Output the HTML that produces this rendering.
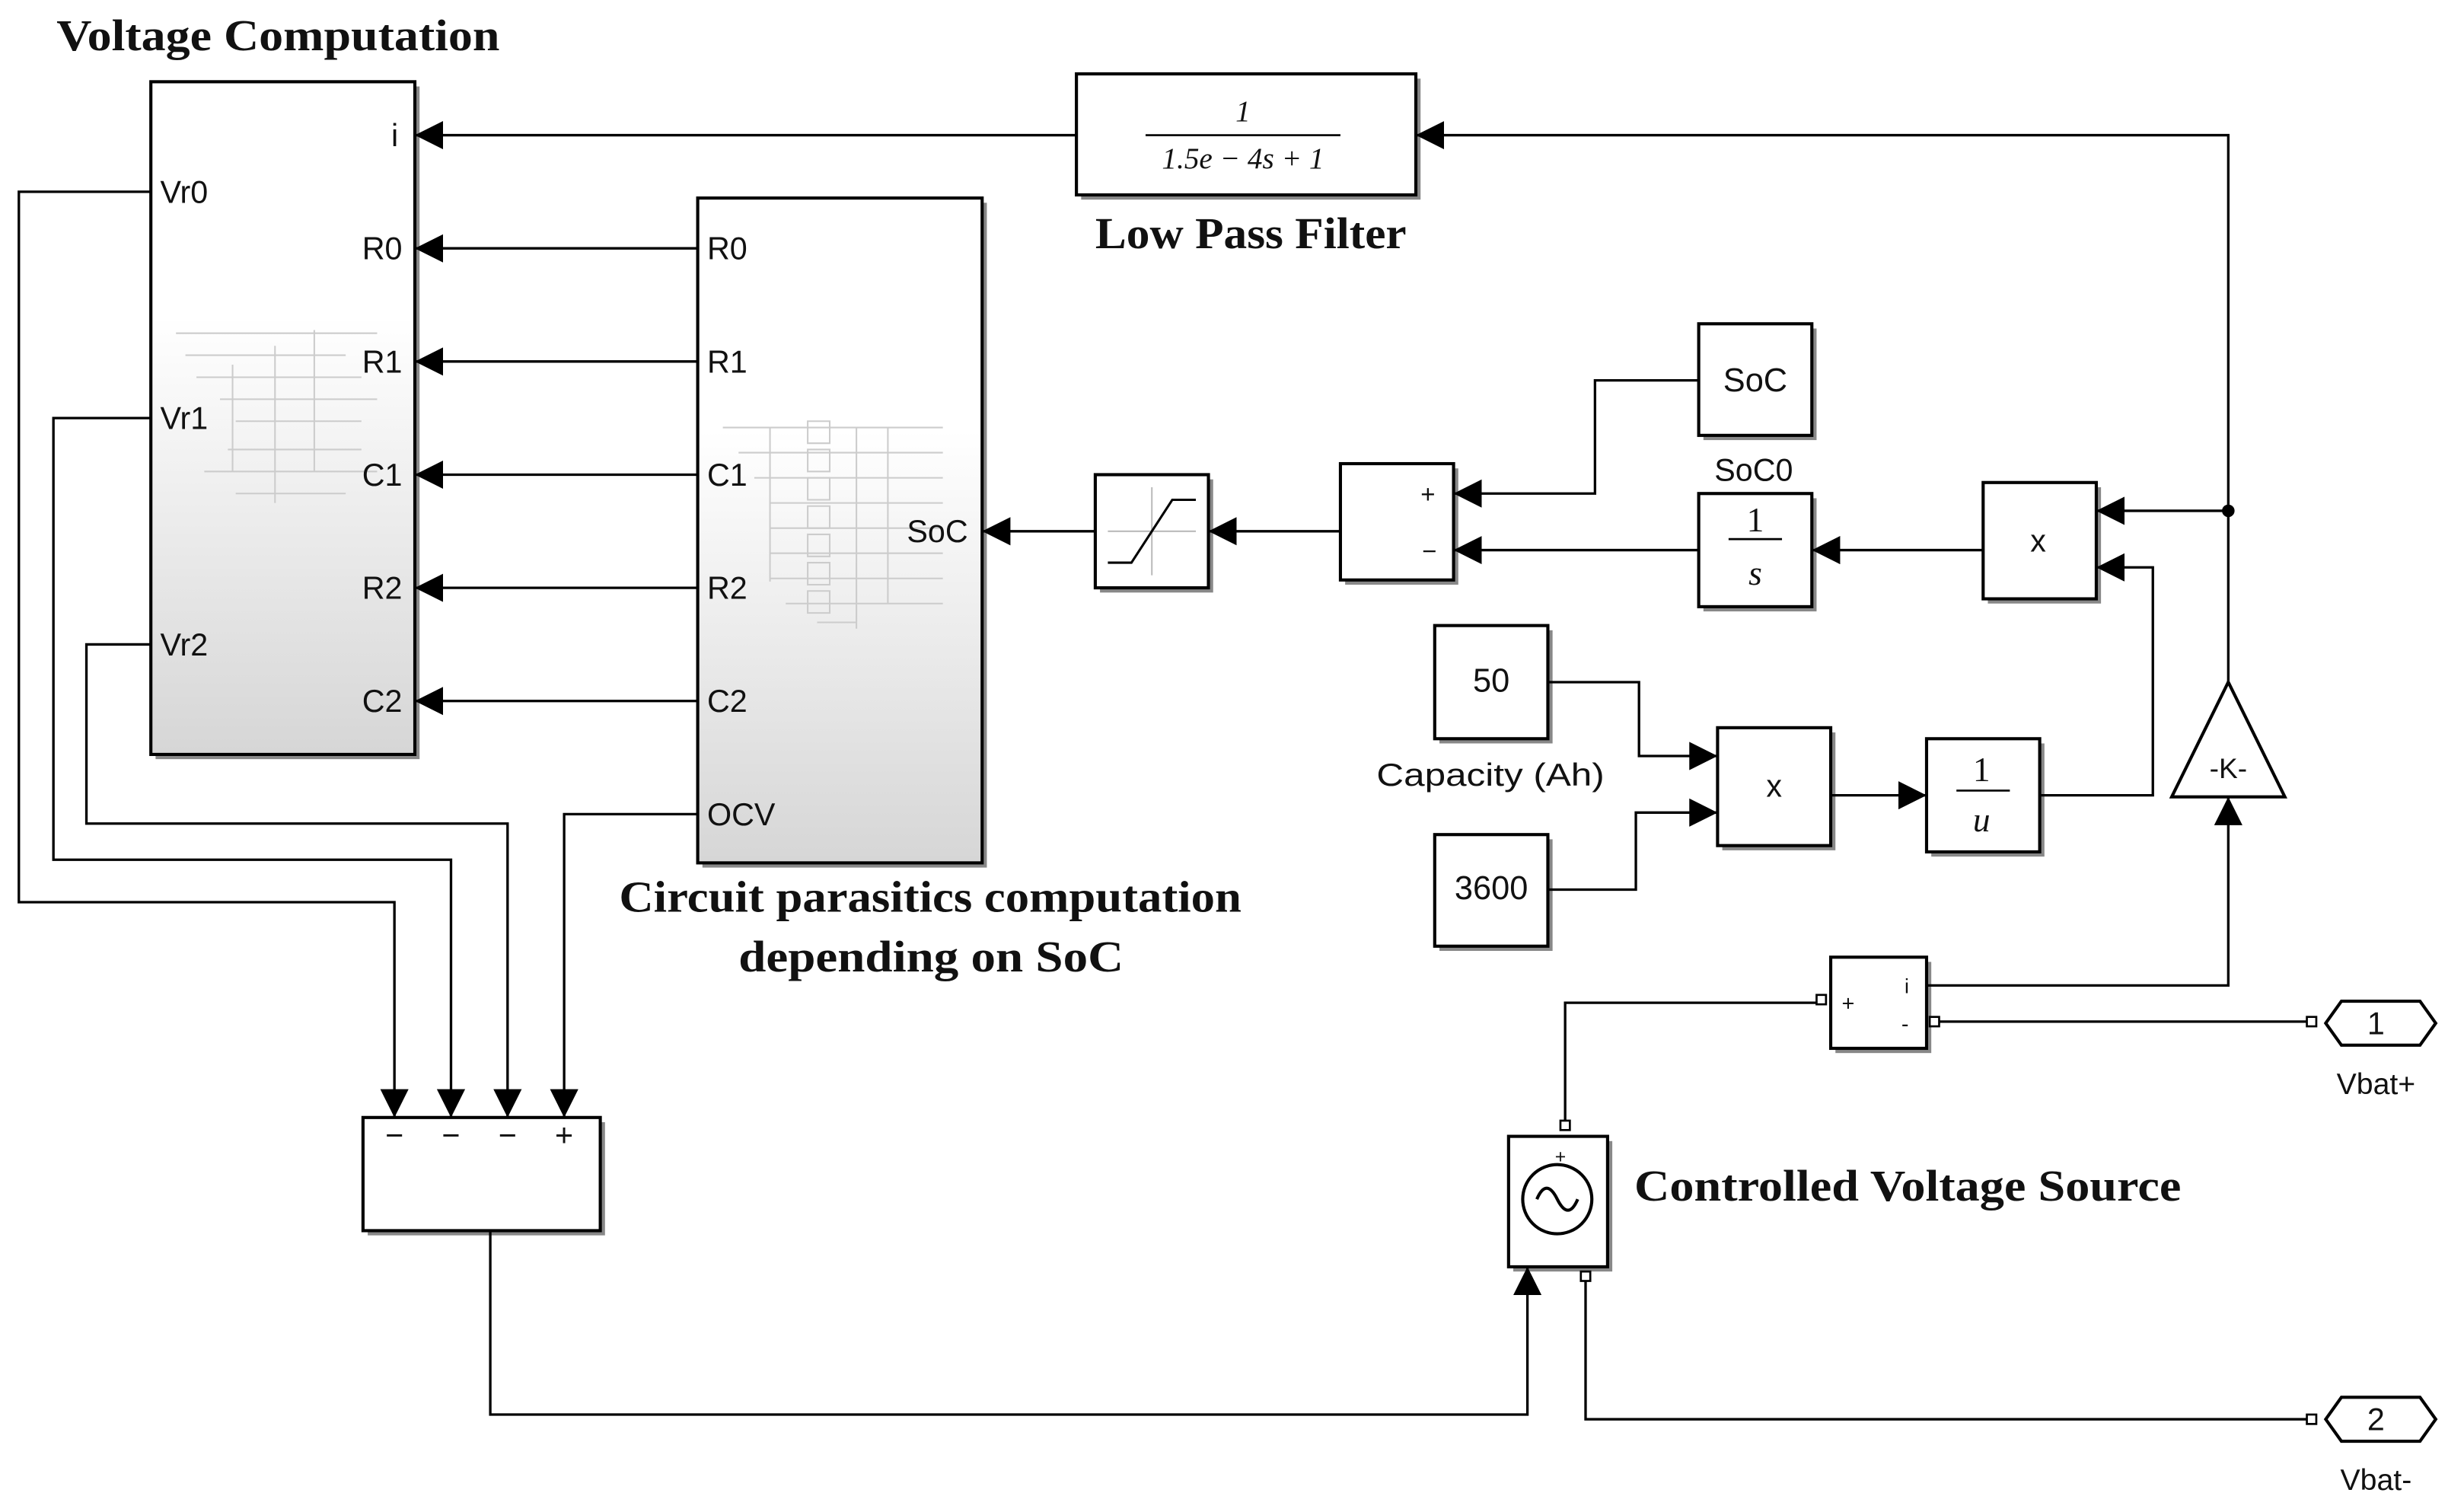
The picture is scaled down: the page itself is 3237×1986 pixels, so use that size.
<!DOCTYPE html>
<html><head><meta charset="utf-8"><style>
html,body{margin:0;padding:0;background:#fff;}
svg{display:block;}
.s{font-family:"Liberation Sans",sans-serif;font-size:20px;fill:#111;}
.t{font-family:"Liberation Serif",serif;font-size:28px;font-weight:bold;fill:#111;}
.m{font-family:"Liberation Serif",serif;font-style:italic;font-size:19px;fill:#111;}
</style></head><body>
<svg width="3237" height="1986" viewBox="0 0 1568 962" xmlns="http://www.w3.org/2000/svg">
<defs>
<linearGradient id="g" x1="0" y1="0" x2="0" y2="1">
<stop offset="0" stop-color="#fff"/><stop offset="0.35" stop-color="#fff"/><stop offset="1" stop-color="#d6d6d6"/>
</linearGradient>
<marker id="a" viewBox="0 0 10 10" refX="10" refY="5" markerWidth="18" markerHeight="18" markerUnits="userSpaceOnUse" orient="auto">
<path d="M0,0 L10,5 L0,10 z" fill="#000"/></marker>
</defs>
<rect width="1568" height="962" fill="#fff"/>
<g fill="none" stroke="#000" stroke-width="2">
<g stroke="none" fill="#888">
<rect x="99" y="55" width="168" height="428"/><rect x="447" y="129" width="181" height="423"/>
<rect x="688" y="50" width="216" height="77"/><rect x="700" y="305" width="72" height="72"/>
<rect x="856" y="298" width="72" height="74"/><rect x="1084" y="209" width="72" height="71"/>
<rect x="1084" y="317" width="72" height="72"/><rect x="1265" y="310" width="72" height="74"/>
<rect x="916" y="401" width="72" height="72"/><rect x="916" y="534" width="72" height="71"/>
<rect x="1096" y="466" width="72" height="75"/><rect x="1229" y="473" width="72" height="72"/>
<rect x="234" y="714" width="151" height="72"/><rect x="1168" y="612" width="61" height="58"/>
<rect x="963" y="726" width="63" height="83"/>
</g>
<rect x="96" y="52" width="168" height="428" fill="url(#g)"/>
<rect x="444" y="126" width="181" height="423" fill="url(#g)"/>
<rect x="685" y="47" width="216" height="77" fill="#fff"/>
<rect x="697" y="302" width="72" height="72" fill="#fff"/>
<rect x="853" y="295" width="72" height="74" fill="#fff"/>
<rect x="1081" y="206" width="72" height="71" fill="#fff"/>
<rect x="1081" y="314" width="72" height="72" fill="#fff"/>
<rect x="1262" y="307" width="72" height="74" fill="#fff"/>
<rect x="913" y="398" width="72" height="72" fill="#fff"/>
<rect x="913" y="531" width="72" height="71" fill="#fff"/>
<rect x="1093" y="463" width="72" height="75" fill="#fff"/>
<rect x="1226" y="470" width="72" height="72" fill="#fff"/>
<rect x="231" y="711" width="151" height="72" fill="#fff"/>
<rect x="1165" y="609" width="61" height="58" fill="#fff"/>
<rect x="960" y="723" width="63" height="83" fill="#fff"/>
<path d="M1418,434 L1454,507 L1382,507 Z" fill="#fff"/>
<path d="M705,338 L761,338 M733,310 L733,366" stroke="#bbb" stroke-width="1"/>
<path d="M705,358 L720,358 L746,318 L761,318" stroke-width="1.5"/>
<circle cx="991" cy="763" r="22" fill="#fff"/>
<path d="M978,763 q6,-14 13,0 t13,0" stroke-width="2"/>
<g stroke="#ccc" stroke-width="1">
<path d="M112,212 H240 M118,226 H220 M125,240 H230 M140,254 H240 M150,268 H230 M145,286 H230 M130,300 H240 M150,314 H220 M148,232 V300 M175,220 V320 M200,210 V300"/>
<path d="M460,272 H600 M470,288 H600 M480,304 H600 M490,320 H600 M490,336 H600 M490,352 H600 M490,368 H600 M500,384 H600 M520,396 H545 M490,272 V370 M545,272 V400 M565,272 V384"/>
<path d="M514,268 h14 v14 h-14 z M514,286 h14 v14 h-14 z M514,304 h14 v14 h-14 z M514,322 h14 v14 h-14 z M514,340 h14 v14 h-14 z M514,358 h14 v14 h-14 z M514,376 h14 v14 h-14 z"/>
</g>
<g marker-end="url(#a)" stroke-width="1.6">
<path d="M685,86 H264"/>
<path d="M444,158 H264"/><path d="M444,230 H264"/><path d="M444,302 H264"/>
<path d="M444,374 H264"/><path d="M444,446 H264"/>
<path d="M1418,434 V86 H901"/>
<path d="M697,338 H625"/>
<path d="M853,338 H769"/>
<path d="M1081,242 H1015 V314 H925"/>
<path d="M1081,350 H925"/>
<path d="M1262,350 H1153"/>
<path d="M1418,325 H1334"/>
<path d="M1298,506 H1370 V361 H1334"/>
<path d="M985,434 H1043 V481 H1093"/>
<path d="M985,566 H1041 V517 H1093"/>
<path d="M1165,506 H1226"/>
<path d="M1226,627 H1418 V507"/>
<path d="M96,122 H12 V574 H251 V711"/>
<path d="M96,266 H34 V547 H287 V711"/>
<path d="M96,410 H55 V524 H323 V711"/>
<path d="M444,518 H359 V711"/>
<path d="M312,783 V900 H972 V806"/>
</g>
<circle cx="1418" cy="325" r="4" fill="#000" stroke="none"/>
<path d="M996,716 V638 H1159" stroke-width="1.6"/>
<path d="M1231,650 H1472" stroke-width="1.6"/>
<path d="M1009,812 V903 H1472" stroke-width="1.6"/>
<g stroke-width="1.3" fill="#fff">
<rect x="993" y="713" width="6" height="6"/><rect x="1006" y="809" width="6" height="6"/>
<rect x="1156" y="633" width="6" height="6"/><rect x="1228" y="647" width="6" height="6"/>
<rect x="1468" y="647" width="6" height="6"/><rect x="1468" y="900" width="6" height="6"/>
</g>
<path d="M1480,651 L1490,637 L1540,637 L1550,651 L1540,665 L1490,665 Z" fill="#fff"/>
<path d="M1480,903 L1490,889 L1540,889 L1550,903 L1540,917 L1490,917 Z" fill="#fff"/>
<path d="M729,86 H853" stroke-width="1.3"/>
<path d="M1100,343 H1134" stroke-width="1.3"/>
<path d="M1245,503 H1279" stroke-width="1.3"/>
</g>
<text class="t" x="36" y="32" textLength="282" lengthAdjust="spacingAndGlyphs">Voltage Computation</text>
<text class="t" x="697" y="158" textLength="198" lengthAdjust="spacingAndGlyphs">Low Pass Filter</text>
<text class="t" x="394" y="580" textLength="396" lengthAdjust="spacingAndGlyphs">Circuit parasitics computation</text>
<text class="t" x="470" y="618" textLength="245" lengthAdjust="spacingAndGlyphs">depending on SoC</text>
<text class="t" x="1040" y="764" textLength="348" lengthAdjust="spacingAndGlyphs">Controlled Voltage Source</text>
<text class="m" x="791" y="77" text-anchor="middle" font-style="normal">1</text>
<text class="m" x="791" y="107" text-anchor="middle">1.5e − 4s + 1</text>
<g class="s">
<text x="249" y="93">i</text>
<text x="102" y="129">Vr0</text><text x="102" y="273">Vr1</text><text x="102" y="417">Vr2</text>
<text x="256" y="165" text-anchor="end">R0</text><text x="256" y="237" text-anchor="end">R1</text>
<text x="256" y="309" text-anchor="end">C1</text><text x="256" y="381" text-anchor="end">R2</text>
<text x="256" y="453" text-anchor="end">C2</text>
<text x="450" y="165">R0</text><text x="450" y="237">R1</text><text x="450" y="309">C1</text>
<text x="450" y="381">R2</text><text x="450" y="453">C2</text><text x="450" y="525">OCV</text>
<text x="616" y="345" text-anchor="end">SoC</text>
<text x="904" y="320" font-size="16">+</text><text x="905" y="356" font-size="16">−</text>
<text x="1117" y="249" text-anchor="middle" font-size="21">SoC</text>
<text x="1116" y="306" text-anchor="middle">SoC0</text>
<text x="1117" y="338" text-anchor="middle" font-family="Liberation Serif" font-size="22">1</text>
<text x="1117" y="372" text-anchor="middle" font-family="Liberation Serif" font-style="italic" font-size="22">s</text>
<text x="1297" y="351" text-anchor="middle">x</text>
<text x="949" y="440" text-anchor="middle" font-size="21">50</text>
<text x="876" y="500" textLength="145" lengthAdjust="spacingAndGlyphs">Capacity (Ah)</text>
<text x="949" y="572" text-anchor="middle" font-size="21">3600</text>
<text x="1129" y="507" text-anchor="middle">x</text>
<text x="1261" y="497" text-anchor="middle" font-family="Liberation Serif" font-size="22">1</text>
<text x="1261" y="529" text-anchor="middle" font-family="Liberation Serif" font-style="italic" font-size="22">u</text>
<text x="1418" y="495" text-anchor="middle" font-size="18">-K-</text>
<text x="251" y="729" text-anchor="middle">−</text><text x="287" y="729" text-anchor="middle">−</text>
<text x="323" y="729" text-anchor="middle">−</text><text x="359" y="729" text-anchor="middle">+</text>
<text x="1172" y="643" font-size="14">+</text><text x="1210" y="656" font-size="14">-</text>
<text x="1212" y="632" font-size="13">i</text>
<text x="993" y="740" text-anchor="middle" font-size="12">+</text>
<text x="1512" y="658" text-anchor="middle">1</text><text x="1512" y="910" text-anchor="middle">2</text>
<text x="1512" y="696" text-anchor="middle" font-size="19">Vbat+</text>
<text x="1512" y="948" text-anchor="middle" font-size="19">Vbat-</text>
</g>
</svg>
</body></html>
